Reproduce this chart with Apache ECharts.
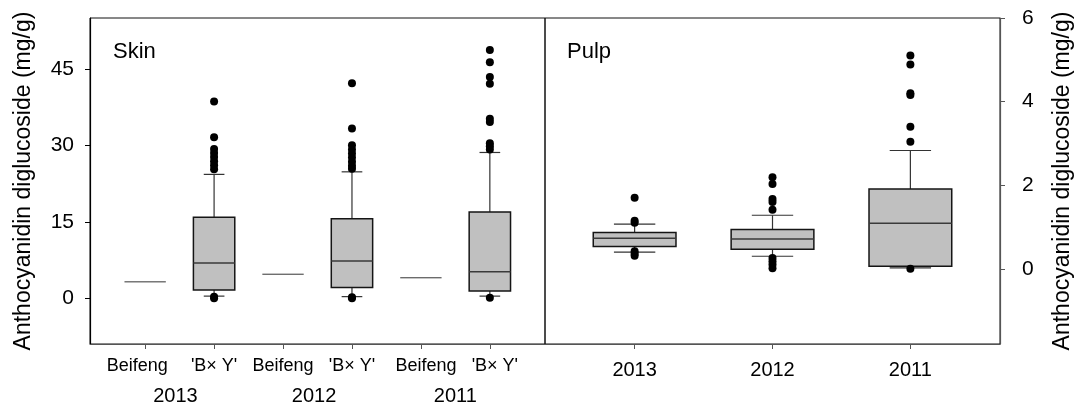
<!DOCTYPE html>
<html>
<head>
<meta charset="utf-8">
<script src="https://cdn.jsdelivr.net/npm/echarts@6/dist/echarts.min.js"></script>
<style>
html,body{margin:0;padding:0;background:#fff;}
#chart{width:1077px;height:407px;}
</style>
</head>
<body>
<div id="chart"></div>
<script>
// ---------- data ----------
var skinLabels = ["Beifeng", "'B\u00d7 Y'", "Beifeng", "'B\u00d7 Y'", "Beifeng", "'B\u00d7 Y'"];
var skinYears = ['2013', '2012', '2011'];
var skinLow    = [3.2, 0.4, 4.7, 0.3, 4.0, 0.4];
var skinQ1     = [3.2, 1.6, 4.7, 2.1, 4.0, 1.4];
var skinMedian = [3.2, 6.9, 4.7, 7.3, 4.0, 5.2];
var skinQ3     = [3.2, 15.9, 4.7, 15.6, 4.0, 16.9];
var skinHigh   = [3.2, 24.3, 4.7, 24.8, 4.0, 28.6];
var skinOutliers = [
  [],
  [38.6, 31.6, 29.3, 28.5, 27.7, 26.9, 26.1, 25.3, 0.3, 0.0],
  [],
  [42.2, 33.3, 30.0, 29.2, 28.4, 27.6, 26.8, 26.0, 25.4, 0.2, 0.0],
  [],
  [48.7, 46.3, 43.4, 42.1, 35.2, 34.6, 30.4, 29.8, 29.2, 0.1]
];
var skinTicks = [0, 15, 30, 45];
var skinYearPos = [0.44, 2.45, 4.5];

var pulpYears  = ['2013', '2012', '2011'];
var pulpLow    = [0.40, 0.30, 0.02];
var pulpQ1     = [0.53, 0.47, 0.06];
var pulpMedian = [0.73, 0.71, 1.09];
var pulpQ3     = [0.87, 0.94, 1.91];
var pulpHigh   = [1.07, 1.28, 2.83];
var pulpOutliers = [
  [1.70, 1.15, 1.10, 0.42, 0.36, 0.31],
  [2.19, 2.03, 1.67, 1.60, 1.41, 0.26, 0.18, 0.10, 0.01],
  [5.10, 4.89, 4.20, 4.16, 3.40, 3.04, 0.0]
];
var pulpTicks = [0, 2, 4, 6];

// ---------- build ----------
function boxData(lo, q1, md, q3, hi) {
  return lo.map(function (v, i) { return [i, lo[i], q1[i], md[i], q3[i], hi[i]]; });
}
function outlierData(groups) {
  var out = [];
  groups.forEach(function (g, i) { g.forEach(function (v) { out.push([i, v]); }); });
  return out;
}
function renderBox(params, api) {
  var x = api.value(0);
  var lo = api.value(1), q1 = api.value(2), md = api.value(3), q3 = api.value(4), hi = api.value(5);
  var w = api.size([0.6, 0])[0];
  var pLo = api.coord([x, lo]), pQ1 = api.coord([x, q1]), pMd = api.coord([x, md]);
  var pQ3 = api.coord([x, q3]), pHi = api.coord([x, hi]);
  var cx = pMd[0];
  var children = [];
  if (q1 === q3) {
    children.push({type: 'line', shape: {x1: cx - w / 2, y1: pMd[1], x2: cx + w / 2, y2: pMd[1]},
      style: {stroke: '#333', lineWidth: 1}});
  } else {
    var ws = {stroke: '#333', lineWidth: 1.2};
    children.push({type: 'line', shape: {x1: cx, y1: pQ3[1], x2: cx, y2: pHi[1]}, style: ws});
    children.push({type: 'line', shape: {x1: cx, y1: pQ1[1], x2: cx, y2: pLo[1]}, style: ws});
    children.push({type: 'line', shape: {x1: cx - w / 4, y1: pHi[1], x2: cx + w / 4, y2: pHi[1]}, style: ws});
    children.push({type: 'line', shape: {x1: cx - w / 4, y1: pLo[1], x2: cx + w / 4, y2: pLo[1]}, style: ws});
    children.push({type: 'rect', shape: {x: cx - w / 2, y: pQ3[1], width: w, height: pQ1[1] - pQ3[1]},
      style: {fill: '#c0c0c0', stroke: '#151515', lineWidth: 1.5}});
    children.push({type: 'line', shape: {x1: cx - w / 2, y1: pMd[1], x2: cx + w / 2, y2: pMd[1]},
      style: {stroke: '#3a3a3a', lineWidth: 1.5}});
  }
  return {type: 'group', children: children};
}

var FONT = 'Arial, "Liberation Sans", sans-serif';
var labelStyles = ['l', 'n', 'n', 'n', 'r', 'r'];
var chart = echarts.init(document.getElementById('chart'), null, {renderer: 'canvas'});
var option = {
  animation: false,
  backgroundColor: '#fff',
  textStyle: {fontFamily: FONT, color: '#000'},
  title: [
    {text: 'Skin', left: 113, top: 41, padding: 0, textStyle: {fontFamily: FONT, fontSize: 22, fontWeight: 'normal', color: '#000'}},
    {text: 'Pulp', left: 567, top: 41, padding: 0, textStyle: {fontFamily: FONT, fontSize: 22, fontWeight: 'normal', color: '#000'}}
  ],
  grid: [
    {left: 90, top: 18, width: 455, height: 326, show: true, borderColor: '#111', borderWidth: 1, containLabel: false},
    {left: 545, top: 18, width: 455, height: 326, show: true, borderColor: '#111', borderWidth: 1, containLabel: false}
  ],
  xAxis: [
    {gridIndex: 0, type: 'value', min: -0.8, max: 5.8, position: 'bottom',
      axisLine: {show: true, onZero: false, lineStyle: {color: '#555', width: 1.2}},
      axisTick: {show: true, length: 5, customValues: [0, 1, 2, 3, 4, 5], lineStyle: {color: '#555'}},
      axisLabel: {customValues: [0, 1, 2, 3, 4, 5], fontSize: 18, margin: 13, color: '#000', fontFamily: FONT,
        formatter: function (v) {
          var i = Math.round(v);
          return '{' + labelStyles[i] + '|' + skinLabels[i] + '}';
        },
        rich: {
          l: {fontSize: 18, fontFamily: FONT, color: '#000', padding: [0, 16, 0, 0]},
          n: {fontSize: 18, fontFamily: FONT, color: '#000'},
          r: {fontSize: 18, fontFamily: FONT, color: '#000', padding: [0, 0, 0, 10]}
        }},
      splitLine: {show: false}},
    {gridIndex: 0, type: 'value', min: -0.8, max: 5.8, position: 'bottom',
      axisLine: {show: false}, axisTick: {show: false},
      axisLabel: {customValues: skinYearPos, fontSize: 20, margin: 42, color: '#000', fontFamily: FONT,
        formatter: function (v) {
          var k = 0, best = 1e9;
          skinYearPos.forEach(function (p, j) { if (Math.abs(p - v) < best) { best = Math.abs(p - v); k = j; } });
          return skinYears[k];
        }},
      splitLine: {show: false}},
    {gridIndex: 1, type: 'value', min: -0.65, max: 2.65, position: 'bottom',
      axisLine: {show: true, onZero: false, lineStyle: {color: '#555', width: 1.2}},
      axisTick: {show: true, length: 5, customValues: [0, 1, 2], lineStyle: {color: '#555'}},
      axisLabel: {customValues: [0, 1, 2], fontSize: 20, margin: 16, color: '#000', fontFamily: FONT,
        formatter: function (v) { return pulpYears[Math.round(v)]; }},
      splitLine: {show: false}}
  ],
  yAxis: [
    {gridIndex: 0, type: 'value', min: -9, max: 55, position: 'left',
      name: 'Anthocyanidin diglucoside (mg/g)', nameLocation: 'middle', nameRotate: 90, nameGap: 55,
      nameTextStyle: {fontSize: 23, color: '#000', fontFamily: FONT},
      axisLine: {show: true, onZero: false, lineStyle: {color: '#000', width: 1.2}},
      axisTick: {show: true, length: 5, customValues: skinTicks, lineStyle: {color: '#000'}},
      axisLabel: {customValues: skinTicks, fontSize: 21, margin: 16, color: '#000', fontFamily: FONT},
      splitLine: {show: false}},
    {gridIndex: 1, type: 'value', min: -1.8, max: 6, position: 'right',
      name: 'Anthocyanidin diglucoside (mg/g)', nameLocation: 'middle', nameRotate: 90, nameGap: 51,
      nameTextStyle: {fontSize: 23, color: '#000', fontFamily: FONT},
      axisLine: {show: true, onZero: false, lineStyle: {color: '#555', width: 1.2}},
      axisTick: {show: true, length: 5, customValues: pulpTicks, lineStyle: {color: '#555'}},
      axisLabel: {customValues: pulpTicks, fontSize: 21, margin: 22, color: '#000', fontFamily: FONT},
      splitLine: {show: false}}
  ],
  series: [
    {type: 'custom', xAxisIndex: 0, yAxisIndex: 0, renderItem: renderBox,
      data: boxData(skinLow, skinQ1, skinMedian, skinQ3, skinHigh),
      encode: {x: 0, y: [1, 2, 3, 4, 5]}, z: 2},
    {type: 'scatter', xAxisIndex: 0, yAxisIndex: 0, symbol: 'circle', symbolSize: 8,
      itemStyle: {color: '#000', opacity: 1}, data: outlierData(skinOutliers), z: 3},
    {type: 'custom', xAxisIndex: 2, yAxisIndex: 1, renderItem: renderBox,
      data: boxData(pulpLow, pulpQ1, pulpMedian, pulpQ3, pulpHigh),
      encode: {x: 0, y: [1, 2, 3, 4, 5]}, z: 2},
    {type: 'scatter', xAxisIndex: 2, yAxisIndex: 1, symbol: 'circle', symbolSize: 8,
      itemStyle: {color: '#000', opacity: 1}, data: outlierData(pulpOutliers), z: 3}
  ]
};
chart.setOption(option);
</script>
</body>
</html>
